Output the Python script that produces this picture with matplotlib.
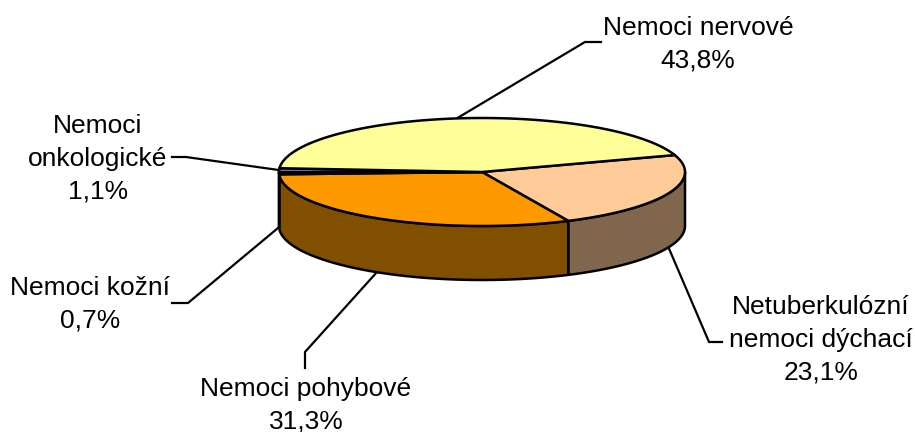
import matplotlib
matplotlib.use('Agg')
import matplotlib.pyplot as plt
import numpy as np
from matplotlib.patches import Polygon

plt.rcParams['font.family'] = ['Liberation Sans', 'DejaVu Sans']

# Data, clockwise from the start angle
labels = ['Netuberkulózní\nnemoci dýchací', 'Nemoci pohybové', 'Nemoci kožní',
          'Nemoci\nonkologické', 'Nemoci nervové']
values = [23.1, 31.3, 0.7, 1.1, 43.8]
value_labels = ['23,1%', '31,3%', '0,7%', '1,1%', '43,8%']

top_colors = ['#FFCC99', '#FF9900', '#000080', '#9999FF', '#FFFF99']
side_colors = ['#80664D', '#804F00', '#000040', '#4D4D80', '#80804D']

# pie geometry in pixels
cx, cy = 482, 172
rx, ry = 203, 54
depth = 54
start = 18.3

# label position and the elbow of each leader
text_pos = [(821, 340), (306, 405), (90, 304), (98, 159), (698, 44)]
elbows = [[(722, 342), (709, 342)], [(305, 368), (305, 352)], [(172, 303), (188, 303)],
          [(172, 157), (186, 157)], [(601, 42), (585, 42)]]


def ell(t, dy=0):
    t = np.radians(t)
    return np.column_stack([cx + rx * np.cos(t), cy - ry * np.sin(t) + dy])


fig = plt.figure(figsize=(9.15, 4.32), dpi=100)
ax = fig.add_axes([0, 0, 1, 1])
ax.set_xlim(0, 915)
ax.set_ylim(432, 0)
ax.axis('off')

sweep = np.array(values) / sum(values) * 360
ends = start - np.cumsum(sweep)
starts = ends + sweep
lw = 1.8

# side walls, only the front half of the rim shows
for a, b, col in zip(starts, ends, side_colors):
    a2, b2 = min(a, 0), max(b, -180)
    if a2 <= b2:
        continue
    t = np.linspace(a2, b2, 80)
    pts = np.vstack([ell(t), ell(t[::-1], depth)])
    ax.add_patch(Polygon(pts, closed=True, fc=col, ec='black', lw=lw, joinstyle='round', zorder=2))

# top faces
for a, b, col in zip(starts, ends, top_colors):
    t = np.linspace(a, b, 120)
    pts = np.vstack([[cx, cy], ell(t)])
    ax.add_patch(Polygon(pts, closed=True, fc=col, ec='black', lw=lw, joinstyle='round', zorder=3))

# leaders and labels
mids = (starts + ends) / 2
for i in range(len(values)):
    m = mids[i]
    dy = depth if -180 < m < 0 else 0
    anchor = ell(np.array([m]), dy)[0]
    path = elbows[i] + [tuple(anchor)]
    ax.plot([p[0] for p in path], [p[1] for p in path], color='black', lw=1.6, zorder=1,
            solid_joinstyle='miter')
    x, y = text_pos[i]
    ax.text(x, y, labels[i] + '\n' + value_labels[i], ha='center', va='center', fontsize=19,
            linespacing=1.46, color='black', zorder=4, multialignment='center')

fig.savefig('out.png', dpi=100, facecolor='white')
